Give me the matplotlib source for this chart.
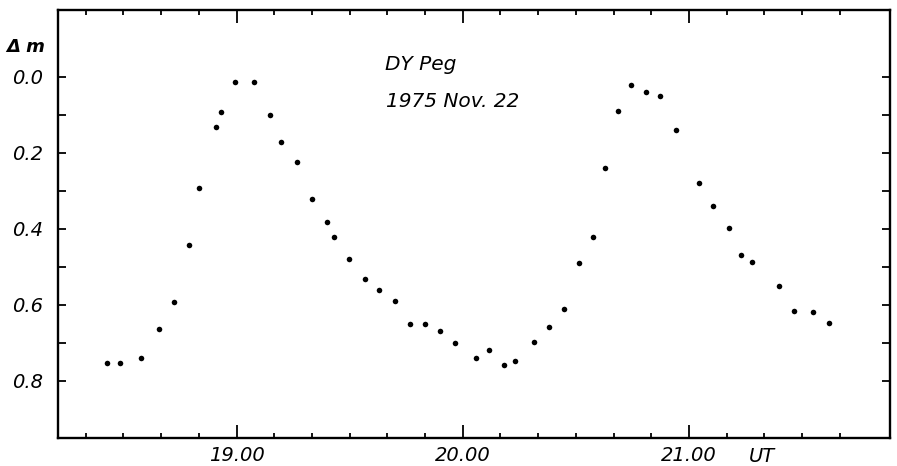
import matplotlib
matplotlib.use("Agg")
import matplotlib.pyplot as plt
import numpy as np

# UT in Stunden (dezimal) und Helligkeitsdifferenz Delta m
ut = [18.428, 18.486, 18.577, 18.659, 18.724, 18.789, 18.836, 18.909, 18.931,
      18.993, 19.079, 19.148, 19.198, 19.266, 19.334, 19.399, 19.432, 19.499,
      19.568, 19.631, 19.699, 19.767, 19.833, 19.900, 19.966, 20.059, 20.118,
      20.183, 20.233, 20.315, 20.383, 20.447, 20.516, 20.577, 20.628, 20.685,
      20.744, 20.810, 20.874, 20.942, 21.043, 21.108, 21.179, 21.230, 21.280,
      21.398, 21.466, 21.547, 21.618]
dm = [0.753, 0.753, 0.740, 0.663, 0.592, 0.443, 0.293, 0.132, 0.092,
      0.014, 0.014, 0.100, 0.172, 0.223, 0.321, 0.383, 0.422, 0.480,
      0.531, 0.561, 0.589, 0.650, 0.650, 0.668, 0.700, 0.740, 0.719,
      0.760, 0.748, 0.698, 0.659, 0.611, 0.490, 0.422, 0.239, 0.090,
      0.022, 0.040, 0.049, 0.140, 0.279, 0.339, 0.398, 0.468, 0.488,
      0.550, 0.617, 0.619, 0.647]

x_major = [19, 20, 21]
x_labels = ["19.00", "20.00", "21.00"]
y_ticks = [0.0, 0.1, 0.2, 0.3, 0.4, 0.5, 0.6, 0.7, 0.8]
y_labels = ["0.0", "", "0.2", "", "0.4", "", "0.6", "", "0.8"]

plt.rcParams['font.family'] = ['DejaVu Sans']
plt.rcParams['font.style'] = 'italic'

fig = plt.figure(figsize=(8.97, 4.66), dpi=100)
ax = fig.add_axes([0.0647, 0.0601, 0.9275, 0.9185])

ax.plot(ut, dm, 'o', color='black', markersize=4, markeredgewidth=0)

ax.set_xlim(18.211, 21.889)
ax.set_ylim(0.951, -0.1765)

ax.set_xticks(x_major)
ax.set_xticklabels(x_labels, fontsize=14, fontstyle='italic')
ax.set_xticks(np.arange(18 + 2/6, 21.7, 1/6), minor=True)
ax.set_yticks(y_ticks)
ax.set_yticklabels(y_labels, fontsize=14, fontstyle='italic')

ax.tick_params(axis='x', which='major', direction='in', length=9.5, width=1.3,
               top=True, pad=6)
ax.tick_params(axis='x', which='minor', direction='in', length=3.6, width=1.3,
               top=True)
ax.tick_params(axis='y', which='both', direction='in', length=6, width=1.3,
               right=True, pad=11)

for s in ax.spines.values():
    s.set_linewidth(1.7)

ax.text(21.323, -0.02, 'UT', transform=ax.get_xaxis_transform(),
        ha='center', va='top', fontsize=14, fontstyle='italic')
ax.text(-0.0156, 0.914, 'Δ m', transform=ax.transAxes, ha='right',
        va='center', fontsize=13, fontstyle='italic', fontweight='bold')

ax.text(19.655, -0.018, 'DY Peg', fontsize=14.5, fontstyle='italic', va='baseline')
ax.text(19.66, 0.078, '1975 Nov. 22', fontsize=14.5, fontstyle='italic', va='baseline')

fig.savefig('out.png', dpi=100)
